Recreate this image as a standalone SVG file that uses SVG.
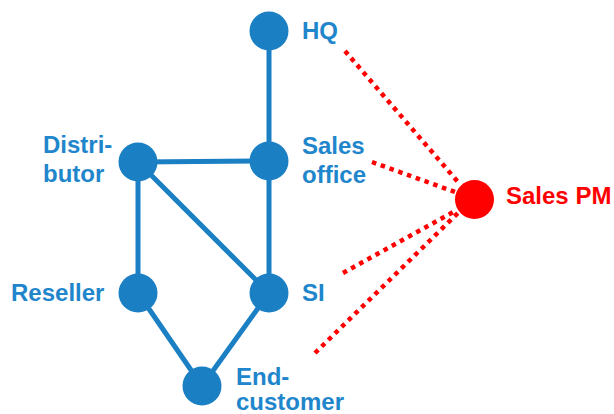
<svg xmlns="http://www.w3.org/2000/svg" width="614" height="414" viewBox="0 0 614 414">
<style>
.edge{stroke:#1b7fc4;stroke-width:5;fill:none}
.dot{stroke:#ff0000;stroke-width:4.5;stroke-dasharray:4.5 4.8;fill:none}
.node{fill:#1b7fc4}
.pm{fill:#ff0000}
text{font-family:"Liberation Sans",Arial,sans-serif;font-weight:bold;font-size:24px;fill:#1f86cc}
.red{fill:#ff0000}
</style>
<rect width="614" height="414" fill="#ffffff"/>
<g id="connectors">
<line class="edge" x1="269" y1="31" x2="269" y2="161"/>
<line class="edge" x1="138" y1="162" x2="269" y2="161"/>
<line class="edge" x1="138" y1="162" x2="138" y2="293"/>
<line class="edge" x1="138" y1="162" x2="269" y2="293"/>
<line class="edge" x1="269" y1="161" x2="269" y2="293"/>
<line class="edge" x1="138" y1="293" x2="202" y2="386"/>
<line class="edge" x1="269" y1="293" x2="202" y2="386"/>
<line class="dot" x1="345" y1="51" x2="458" y2="182"/>
<line class="dot" x1="372" y1="162" x2="455" y2="192"/>
<line class="dot" x1="343" y1="273" x2="455" y2="211"/>
<line class="dot" x1="315" y1="353" x2="459" y2="212"/>
</g>
<g id="hq"><circle class="node" cx="269" cy="31" r="19.5"/><text x="302" y="39">HQ</text></g>
<g id="sales-office"><circle class="node" cx="269" cy="161" r="19.5"/><text x="302" y="154">Sales</text><text x="302" y="183">office</text></g>
<g id="distributor"><circle class="node" cx="138" cy="162" r="19.5"/><text x="43" y="153">Distri-</text><text x="43" y="182">butor</text></g>
<g id="reseller"><circle class="node" cx="138" cy="293" r="19.5"/><text x="11" y="301">Reseller</text></g>
<g id="si"><circle class="node" cx="269" cy="293" r="19.5"/><text x="302" y="301">SI</text></g>
<g id="end-customer"><circle class="node" cx="202" cy="386" r="19.5"/><text x="236" y="385">End-</text><text x="236" y="410">customer</text></g>
<g id="sales-pm"><circle class="pm" cx="474.5" cy="199.5" r="19.5"/><text class="red" x="506" y="204">Sales PM</text></g>
</svg>
